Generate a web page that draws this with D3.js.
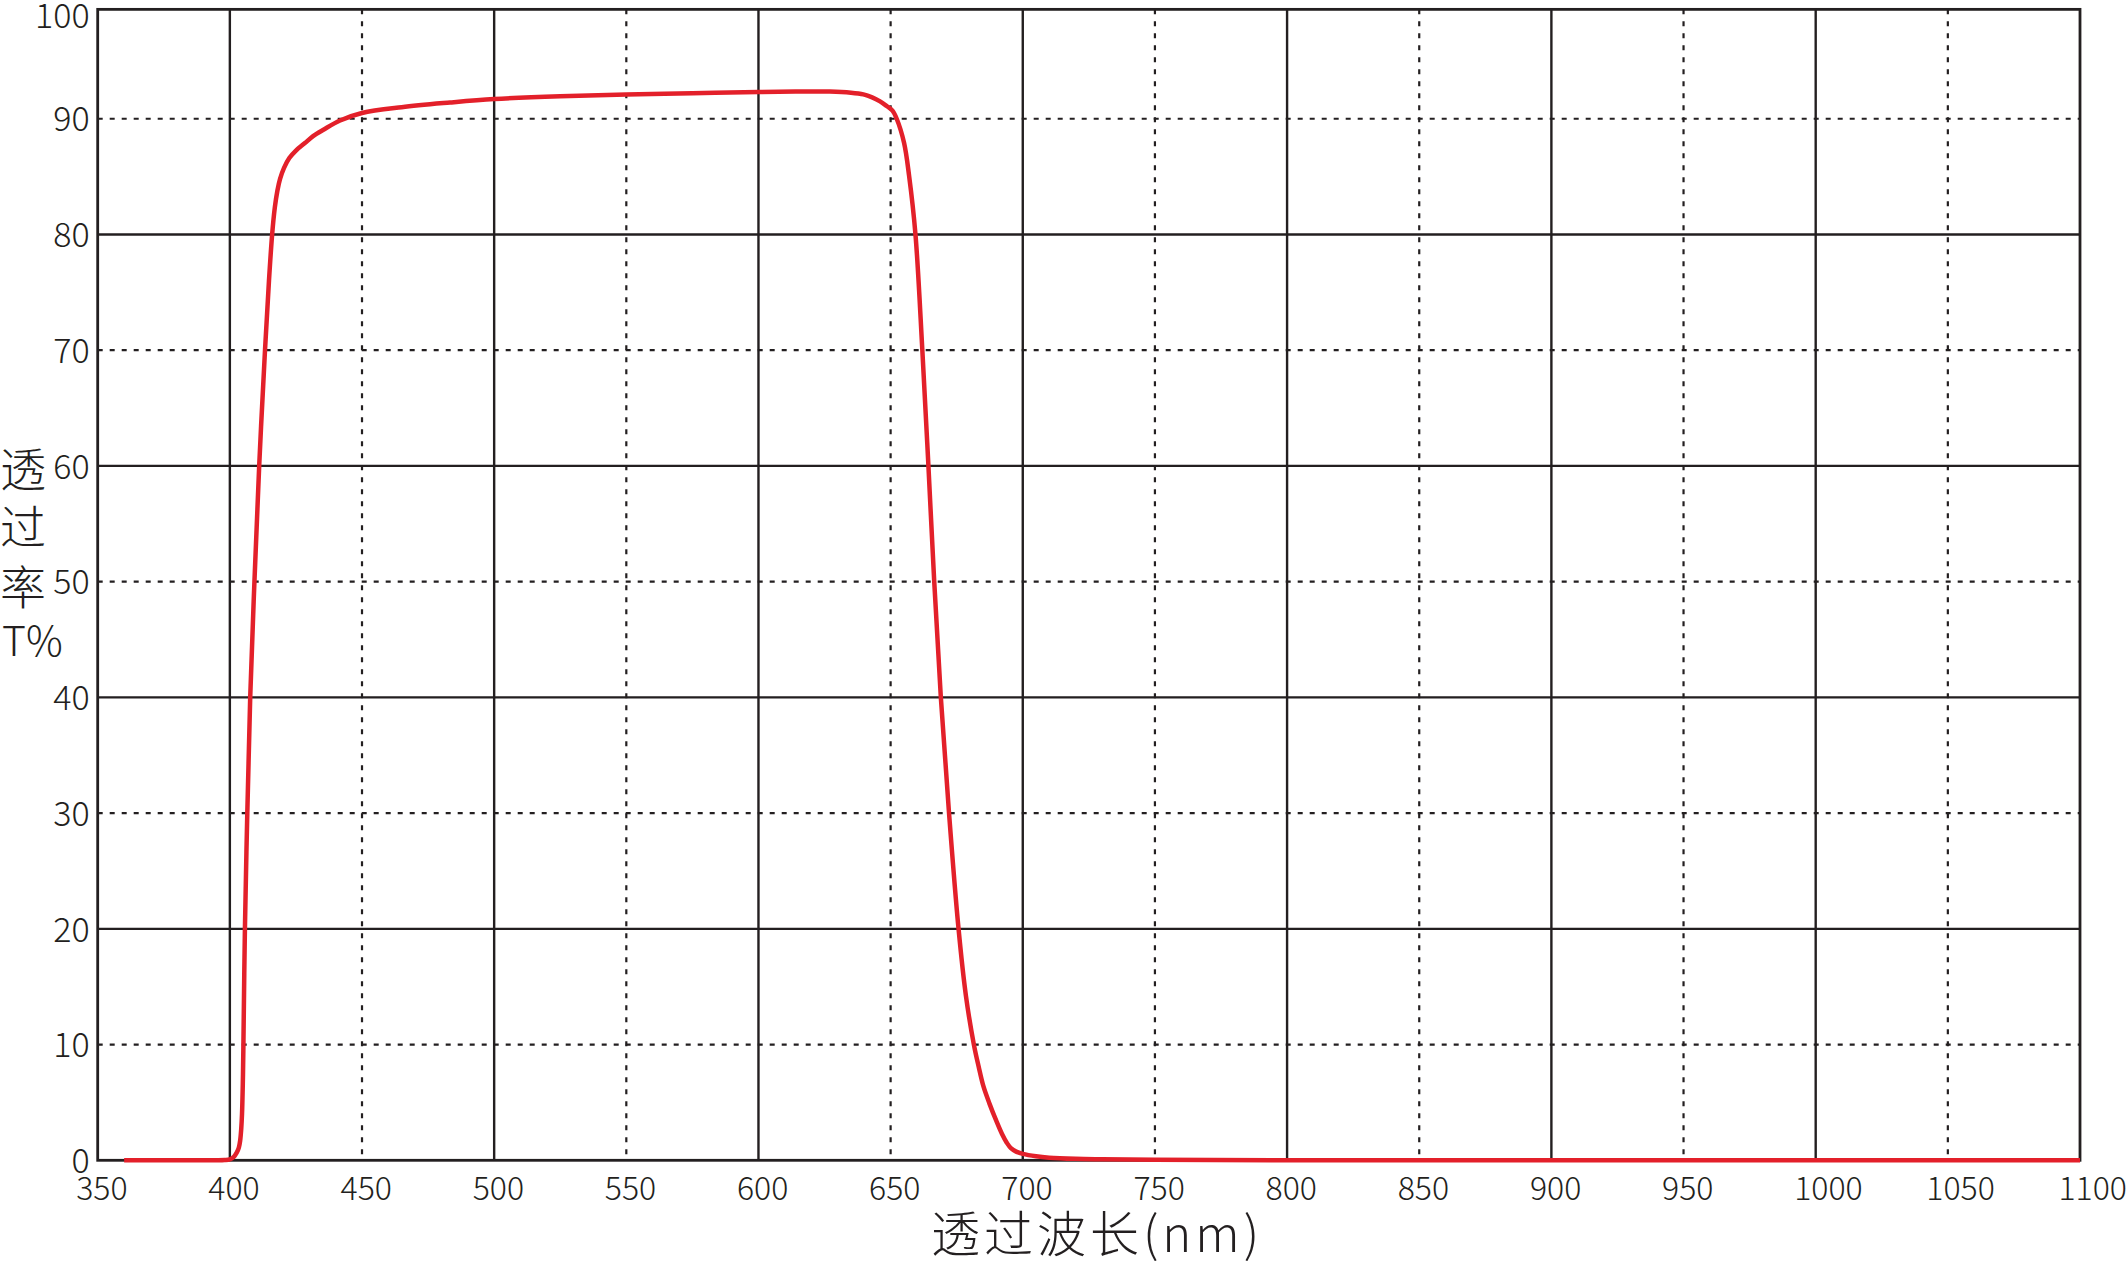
<!DOCTYPE html>
<html>
<head>
<meta charset="utf-8">
<script src="https://cdn.jsdelivr.net/npm/d3@7"></script>
<style>
  html, body { margin: 0; padding: 0; background: #ffffff; }
  svg { display: block; }
  text { font-family: "Noto Sans CJK SC", "Noto Sans", sans-serif; font-weight: 300; fill: #231f20; }
</style>
</head>
<body>
<svg id="chart" width="2127" height="1261"></svg>
<script>
// ---- data ----
const wavelengths = [360, 380, 395, 398, 400, 401.5, 402.6, 403.4, 403.9, 404.3, 404.6, 404.9, 405.1, 405.7, 406.6, 407.7, 409.3, 411.1, 413.3, 414.8, 416.0, 417.0, 418.0, 419.0, 420.5, 422.5, 425.0, 428.4, 431.5, 435.4, 441.7, 450, 465, 483.3, 500, 525, 550, 575, 600, 615, 627, 635, 639.7, 643, 646, 648.5, 650.7, 652.3, 655.1, 657, 659.4, 662, 664.3, 666.5, 669, 672.1, 675.7, 678.5, 681.5, 683.3, 685.1, 687.4, 690, 692.1, 694, 695.5, 697.5, 700, 705, 710, 720, 730, 750, 800, 1100];
const transmittance = [0, 0, 0, 0.02, 0.08, 0.3, 0.66, 1.1, 1.7, 2.7, 4.0, 6.6, 9.5, 20, 30, 40, 50, 60, 70, 76, 80, 82.3, 83.8, 84.8, 85.75, 86.6, 87.25, 87.9, 88.5, 89.05, 89.85, 90.5, 91.0, 91.4, 91.7, 91.95, 92.1, 92.2, 92.3, 92.35, 92.35, 92.25, 92.1, 91.85, 91.5, 91.1, 90.7, 90, 87.9, 85.05, 80, 70, 60, 50, 40, 30, 20, 14.2, 10, 8.1, 6.4, 4.9, 3.4, 2.3, 1.5, 1.05, 0.75, 0.56, 0.35, 0.23, 0.13, 0.09, 0.04, 0.01, 0];
const xTicks = [350, 400, 450, 500, 550, 600, 650, 700, 750, 800, 850, 900, 950, 1000, 1050, 1100];
const yTicks = [0, 10, 20, 30, 40, 50, 60, 70, 80, 90, 100];
const xTitle = "透过波长(nm)";
const yTitleLines = ["透", "过", "率", "T%"];

// ---- layout ----
const svg = d3.select("#chart");
const x = d3.scaleLinear().domain([350, 1100]).range([97.7, 2080]);
const y = d3.scaleLinear().domain([0, 100]).range([1160.3, 3]);
const frameTopValue = 99.45;
const ink = "#231f20";

const data = wavelengths.map((w, i) => ({ w, t: transmittance[i] }));

// grid lines
const grid = svg.append("g");
grid.selectAll("line.vx")
  .data(xTicks.filter(d => d > 350 && d < 1100))
  .join("line")
  .attr("x1", d => x(d)).attr("x2", d => x(d))
  .attr("y1", y(frameTopValue)).attr("y2", y(0))
  .attr("stroke", ink)
  .attr("stroke-width", d => d % 100 === 0 ? 2.4 : 2.2)
  .attr("stroke-dasharray", d => d % 100 === 0 ? null : "5,7");

grid.selectAll("line.hy")
  .data(yTicks.filter(d => d > 0 && d < 100))
  .join("line")
  .attr("x1", x(350)).attr("x2", x(1100))
  .attr("y1", d => y(d)).attr("y2", d => y(d))
  .attr("stroke", ink)
  .attr("stroke-width", d => d % 20 === 0 ? 2.4 : 2.2)
  .attr("stroke-dasharray", d => d % 20 === 0 ? null : "5,7");

// frame
svg.append("rect")
  .attr("x", x(350)).attr("y", y(frameTopValue))
  .attr("width", x(1100) - x(350)).attr("height", y(0) - y(frameTopValue))
  .attr("fill", "none").attr("stroke", ink).attr("stroke-width", 2.8);

// curve
const line = d3.line()
  .x(d => x(d.w)).y(d => y(d.t))
  .curve(d3.curveCatmullRom.alpha(0.5));
svg.append("path")
  .datum(data)
  .attr("d", line)
  .attr("fill", "none")
  .attr("stroke", "#e3202a")
  .attr("stroke-width", 4.5)
  .attr("stroke-linejoin", "round")
  .attr("stroke-linecap", "butt");

// x axis labels
const xAxis = svg.append("g")
  .attr("transform", `translate(0,${y(0)})`)
  .call(d3.axisBottom(x).tickValues(xTicks).tickSize(0).tickFormat(d3.format("d")));
xAxis.select(".domain").remove();
xAxis.selectAll("text")
  .attr("text-anchor", "start")
  .attr("x", -22)
  .attr("y", 40)
  .attr("dy", null)
  .attr("font-size", 32)
  .attr("font-family", null)
  .attr("fill", ink);

// y axis labels
const yAxis = svg.append("g")
  .attr("transform", `translate(${x(350)},0)`)
  .call(d3.axisLeft(y).tickValues(yTicks).tickSize(0).tickFormat(d3.format("d")));
yAxis.select(".domain").remove();
yAxis.selectAll("text")
  .attr("x", -8)
  .attr("dy", "0.36em")
  .attr("y", d => d === 100 ? 12.5 : 0)
  .attr("font-size", 34)
  .attr("font-family", null)
  .attr("fill", ink);

// x title
svg.append("text")
  .attr("x", 1097).attr("y", 1252)
  .attr("text-anchor", "middle")
  .attr("font-size", 49)
  .attr("letter-spacing", 4)
  .text(xTitle);

// y title (stacked)
const yt = svg.append("text").attr("font-size", 46);
yt.selectAll("tspan")
  .data(yTitleLines)
  .join("tspan")
  .attr("x", d => d === "T%" ? 2 : 0)
  .attr("y", (d, i) => [486, 544, 604, 656][i])
  .attr("font-size", d => d === "T%" ? 41 : 46)
  .text(d => d);
</script>
</body>
</html>
